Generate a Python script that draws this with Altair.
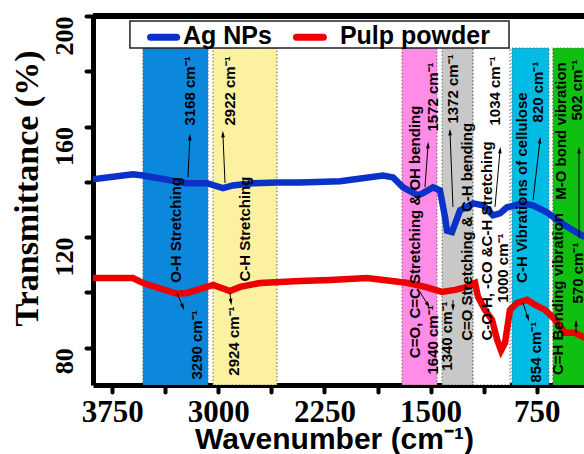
import math
import altair as alt
import pandas as pd

# ---------------- data ----------------
ag_wn = [3886, 3604, 3533, 3222, 3081, 2968, 2897, 2755, 2586, 2423, 2140, 1836, 1765, 1695,
         1589, 1554, 1483, 1434, 1398, 1384, 1349, 1292, 1200, 1129, 1059, 1010, 960, 847,
         777, 678, 585, 494, 410]
ag_t = [140.9, 142.7, 142.3, 139.5, 139.5, 137.7, 138.7, 139.5, 139.8, 139.8, 140.2, 142.3, 141.6, 138.0,
        135.1, 135.9, 138.0, 136.9, 127.2, 122.3, 121.8, 129.7, 132.2, 131.5, 127.9, 128.6, 130.8, 132.2,
        131.5, 129.0, 125.4, 122.5, 120.0]

pp_wn = [3886, 3604, 3533, 3292, 3222, 3081, 3037, 2918, 2847, 2706, 2423, 2211, 1949, 1716, 1659,
         1539, 1419, 1327, 1243, 1186, 1165, 1116, 1066, 1030, 1002, 974, 939, 889, 818, 762, 691,
         620, 550, 479, 410]
pp_t = [105.2, 105.2, 103.4, 99.5, 99.8, 102.0, 102.7, 100.5, 102.0, 103.4, 104.1, 104.5, 105.2, 103.8, 103.4,
        102.0, 100.2, 100.9, 102.0, 103.4, 98.4, 93.7, 90.1, 82.9, 79.0, 81.8, 93.7, 96.2, 97.3, 95.5, 93.7,
        90.1, 85.4, 85.4, 83.6]

series_names = ["Ag NPs", "Pulp powder"]
series_colors = ["#0A32C8", "#EE0000"]

# legend (key) placement, in axis units
key_box_wn = [3625, 946]
key_box_t = [198.2, 188.4]
key_sym_wn0 = [3479, 2448]
key_sym_wn1 = [3295, 2258]
key_sym_t = [192.3, 192.3]
key_lab_wn = [3250, 2141]
key_lab_t = [190.0, 190.0]

band_hi = [3533, 3038, 1702, 1419, 1200, 925, 636]
band_lo = [3073, 2586, 1455, 1200, 939, 664, 300]
band_colors = ["#0B87DB", "#FBF1A0", "#FF8CE6", "#C8C8C8", "#FFFFFF", "#00BCE4", "#10C010"]
band_top = 188.4

ann_text = ["O-H Stretching", "3168 cm\u207b\u00b9", "3290 cm\u207b\u00b9",
            "C-H Stretching", "2922 cm\u207b\u00b9", "2924 cm\u207b\u00b9",
            "C=O, C=C Stretching & OH bending", "1572 cm\u207b\u00b9", "1640 cm\u207b\u00b9",
            "C=O Stretching & C-H bending", "1372 cm\u207b\u00b9", "1340 cm\u207b\u00b9",
            "C-O-H, -CO &C-H Stretching", "1034 cm\u207b\u00b9", "1000 cm\u207b\u00b9",
            "C-H Vibrations of cellulose", "820 cm\u207b\u00b9", "854 cm\u207b\u00b9",
            "M-O bond vibration", "502 cm\u207b\u00b9", "C=H Bending vibration", "570 cm\u207b\u00b9"]
ann_wn = [3300, 3201, 3151, 2812, 2918, 2890, 1610, 1483, 1483, 1243, 1342, 1384,
          1105, 1045, 988, 854, 741, 755, 578, 465, 600, 458]
ann_t = [122.6, 172.9, 81.0, 122.9, 172.9, 82.4, 121.9, 170.7, 82.8, 121.9, 173.6, 84.2,
         118.6, 172.9, 108.8, 137.9, 172.5, 78.4, 158.4, 173.2, 99.4, 107.0]

arr_wn0 = [3215, 2953, 3293, 2918, 1540, 1575, 1342, 1342, 1045, 776, 847, 451, 472]
arr_t0 = [141.7, 139.6, 99.8, 99.8, 138.1, 100.1, 130.9, 97.2, 130.9, 133.4, 96.2, 119.7, 85.3]
arr_wn1 = [3201, 2968, 3250, 2911, 1518, 1518, 1363, 1342, 1009, 727, 812, 451, 472]
arr_t1 = [156.2, 157.3, 94.7, 96.5, 153.3, 95.4, 158.0, 94.4, 151.5, 155.1, 90.7, 151.5, 88.9]

x_ticks = [3750, 3375, 3000, 2625, 2250, 1875, 1500, 1125, 750]
x_labeled = [3750, 3000, 2250, 1500, 750]
y_ticks = [80, 100, 120, 140, 160, 180, 200]
y_labeled = [80, 120, 160, 200]

# ---------------- tables ----------------
spec_df = pd.concat([
    pd.DataFrame({"wn": ag_wn, "t": ag_t, "series": series_names[0]}),
    pd.DataFrame({"wn": pp_wn, "t": pp_t, "series": series_names[1]}),
])
band_df = pd.DataFrame({"wn": band_hi, "wn2": band_lo, "col": band_colors,
                        "t": [66.5] * len(band_hi), "t2": [band_top] * len(band_hi)})
ann_df = pd.DataFrame({"wn": ann_wn, "t": ann_t, "label": ann_text})
key_box_df = pd.DataFrame({"wn": [key_box_wn[0]], "wn2": [key_box_wn[1]],
                           "t": [key_box_t[0]], "t2": [key_box_t[1]]})
key_sym_df = pd.DataFrame({"wn": key_sym_wn0, "wn2": key_sym_wn1, "t": key_sym_t,
                           "series": series_names})
key_lab_df = pd.DataFrame({"wn": key_lab_wn, "t": key_lab_t, "series": series_names})

X_MIN, X_MAX, Y_MIN, Y_MAX = 416, 3886, 66.5, 200
W, H = 491, 369
kx = W / (X_MAX - X_MIN)
ky = H / (Y_MAX - Y_MIN)
angs = []
for a, b, c, d in zip(arr_wn0, arr_t0, arr_wn1, arr_t1):
    dx = -(c - a) * kx
    dy = -(d - b) * ky
    angs.append(math.degrees(math.atan2(dx, -dy)) % 360)
arr_df = pd.DataFrame({"wn": arr_wn0, "t": arr_t0, "wn2": arr_wn1, "t2": arr_t1, "ang": angs})

# ---------------- scales / axes ----------------
xs = alt.Scale(domain=[X_MIN, X_MAX], reverse=True, nice=False, zero=False)
ys = alt.Scale(domain=[Y_MIN, Y_MAX], nice=False, zero=False)
cs = alt.Scale(domain=series_names, range=series_colors)

AX_X = alt.Axis(values=x_ticks, format="d",
                labelExpr="indexof(%s, datum.value) >= 0 ? datum.label : ''" % str(x_labeled),
                title="Wavenumber (cm\u207b\u00b9)", grid=False,
                labelFont="Liberation Sans Narrow", labelFontSize=31, labelFontWeight="bold",
                labelBaseline="alphabetic", labelPadding=29, labelFlush=False, labelOverlap=False,
                tickSize=7, tickWidth=4, tickCap="round", domainWidth=5,
                titleFont="Liberation Sans", titleFontSize=30, titleFontWeight="bold",
                titleBaseline="alphabetic", titleX=241, titleY=63)
AX_Y = alt.Axis(values=y_ticks, format="d",
                labelExpr="indexof(%s, datum.value) >= 0 ? datum.label : ''" % str(y_labeled),
                title="Transmittance (%)", grid=False,
                labelFont="Liberation Sans Narrow", labelFontSize=26, labelFontWeight="bold",
                labelAngle=270, labelAlign="right", labelBaseline="alphabetic", labelPadding=14,
                labelFlush=False, labelOverlap=False,
                tickSize=7, tickWidth=4, tickCap="round", domainWidth=5,
                titleFont="Liberation Serif", titleFontSize=34, titleFontWeight="bold",
                titleAngle=270, titleBaseline="alphabetic", titleAlign="center",
                titleX=-56, titleY=172)

X = alt.X("wn:Q", scale=xs, axis=AX_X)
Y = alt.Y("t:Q", scale=ys, axis=AX_Y)
COL = alt.Color("series:N", scale=cs, legend=None)

bands = alt.Chart(band_df).mark_rect(clip=True, stroke="#666666", strokeWidth=1,
                                     strokeDash=[1.5, 2]).encode(
    x=X, x2="wn2:Q", y=Y, y2="t2:Q", fill=alt.Fill("col:N", scale=None))

lines = alt.Chart(spec_df).mark_line(clip=True, strokeWidth=6.5).encode(
    x=X, y=Y, color=COL, detail="series:N")

texts = alt.Chart(ann_df).mark_text(angle=270, font="Liberation Sans", fontSize=15,
                                     fontWeight="bold", color="black", align="center",
                                     baseline="middle", clip=True).encode(
    x=X, y=Y, text="label:N")

arrows = alt.Chart(arr_df).mark_rule(color="black", strokeWidth=1).encode(
    x=X, y=Y, x2="wn2:Q", y2="t2:Q")
heads = alt.Chart(arr_df).mark_point(shape="M0,-1L0.55,1L-0.55,1Z", filled=True, size=45,
                                     color="black", opacity=1).encode(
    x=alt.X("wn2:Q", scale=xs, axis=AX_X), y=alt.Y("t2:Q", scale=ys, axis=AX_Y),
    angle=alt.Angle("ang:Q", scale=None))

key_box = alt.Chart(key_box_df).mark_rect(fill="white", stroke="#222222", strokeWidth=1.5).encode(
    x=X, x2="wn2:Q", y=Y, y2="t2:Q")
key_sym = alt.Chart(key_sym_df).mark_rule(strokeWidth=7, strokeCap="round").encode(
    x=X, x2="wn2:Q", y=Y, color=COL)
key_lab = alt.Chart(key_lab_df).mark_text(font="Liberation Sans", fontSize=25, fontWeight="bold",
                                          color="black", align="left",
                                          baseline="alphabetic").encode(
    x=X, y=Y, text="series:N")

top = alt.Chart(band_df).mark_rule(color="black", strokeWidth=5).encode(y=alt.datum(200))

chart = alt.layer(bands, lines, texts, arrows, heads, key_box, key_sym, key_lab, top).properties(
    width=W, height=H,
    autosize=alt.AutoSizeParams(type="none"),
    padding={"left": 93, "top": 16, "right": 0, "bottom": 69},
    background="white",
).configure_view(stroke=None).configure_axis(
    domainColor="black", tickColor="black", labelColor="black", titleColor="black")

chart.save("out.html", embed_options={"renderer": "svg", "actions": False})
